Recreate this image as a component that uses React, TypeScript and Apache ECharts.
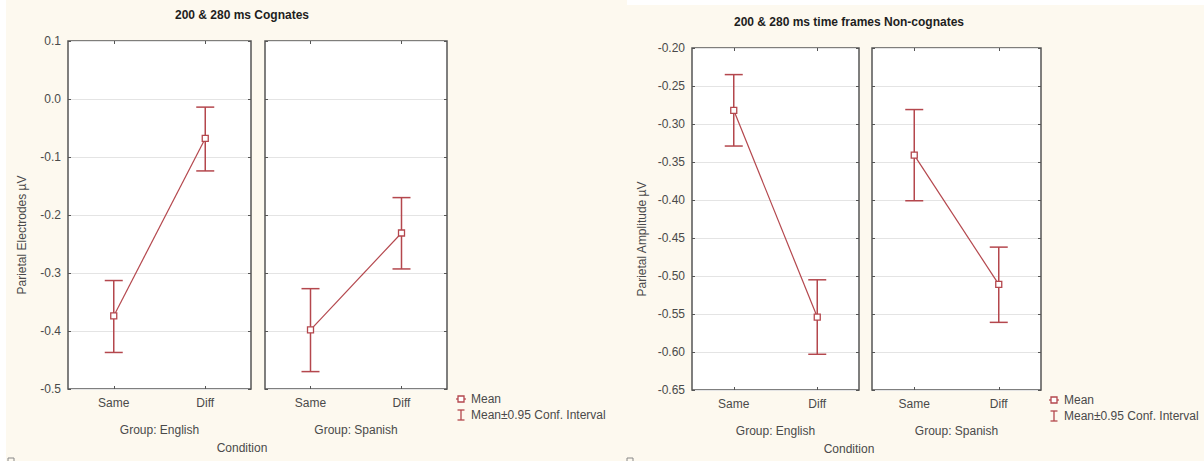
import React, { useEffect, useRef } from "react";
import * as echarts from "echarts";

// Conditions on each panel's x axis
const conditions = ["Same", "Diff"];

// Cognates, 200 & 280 ms (µV)
const cognEnglishMean = [-0.374, -0.068];
const cognEnglishLow = [-0.437, -0.124];
const cognEnglishHigh = [-0.313, -0.014];
const cognSpanishMean = [-0.398, -0.231];
const cognSpanishLow = [-0.47, -0.293];
const cognSpanishHigh = [-0.327, -0.17];

// Non-cognates, 200 & 280 ms time frames (µV)
const nonEnglishMean = [-0.282, -0.554];
const nonEnglishLow = [-0.329, -0.603];
const nonEnglishHigh = [-0.235, -0.505];
const nonSpanishMean = [-0.341, -0.511];
const nonSpanishLow = [-0.401, -0.561];
const nonSpanishHigh = [-0.281, -0.462];

const groupNames = ["Group: English", "Group: Spanish"];
const legendMean = "Mean";
const legendCI = "Mean±0.95 Conf. Interval";

const RED = "#b4474d";
const FONT = "'Liberation Sans', Arial, sans-serif";
const TXT = "#4a4a4a";
const FRAME = "#555";

type Panel = {
  left: number;
  top: number;
  width: number;
  height: number;
  min: number;
  max: number;
  interval: number;
  digits: number;
  showLabels: boolean;
  group: string;
  mean: number[];
  low: number[];
  high: number[];
};

const panels: Panel[] = [
  { left: 68, top: 41, width: 183, height: 348, min: -0.5, max: 0.1, interval: 0.1, digits: 1, showLabels: true, group: groupNames[0], mean: cognEnglishMean, low: cognEnglishLow, high: cognEnglishHigh },
  { left: 265, top: 41, width: 182, height: 348, min: -0.5, max: 0.1, interval: 0.1, digits: 1, showLabels: false, group: groupNames[1], mean: cognSpanishMean, low: cognSpanishLow, high: cognSpanishHigh },
  { left: 692, top: 48, width: 167, height: 342, min: -0.65, max: -0.2, interval: 0.05, digits: 2, showLabels: true, group: groupNames[0], mean: nonEnglishMean, low: nonEnglishLow, high: nonEnglishHigh },
  { left: 872, top: 48, width: 169, height: 342, min: -0.65, max: -0.2, interval: 0.05, digits: 2, showLabels: false, group: groupNames[1], mean: nonSpanishMean, low: nonSpanishLow, high: nonSpanishHigh },
];

function buildOption() {
  const grid: any[] = [];
  const xAxis: any[] = [];
  const yAxis: any[] = [];
  const series: any[] = [];

  panels.forEach((p, i) => {
    grid.push({
      left: p.left,
      top: p.top,
      width: p.width,
      height: p.height,
      show: true,
      backgroundColor: "#ffffff",
      borderColor: FRAME,
      borderWidth: 1.5,
    });
    const tick = { show: true, inside: true, length: 3, lineStyle: { color: FRAME, width: 1 } };
    // bottom category axis with labels and group name
    xAxis.push({
      type: "category",
      gridIndex: i,
      data: conditions,
      position: "bottom",
      axisLine: { show: false, onZero: false },
      axisTick: { ...tick, alignWithLabel: true },
      axisLabel: { fontFamily: FONT, fontSize: 12, color: TXT, margin: 8 },
      name: p.group,
      nameLocation: "middle",
      nameGap: 35,
      nameTextStyle: { fontFamily: FONT, fontSize: 12, color: TXT },
    });
    // top mirror for tick marks
    xAxis.push({
      type: "category",
      gridIndex: i,
      data: conditions,
      position: "top",
      axisLine: { show: false, onZero: false },
      axisTick: { ...tick, alignWithLabel: true },
      axisLabel: { show: false },
    });
    yAxis.push({
      type: "value",
      gridIndex: i,
      min: p.min,
      max: p.max,
      interval: p.interval,
      position: "left",
      axisLine: { show: false, onZero: false },
      axisTick: tick,
      splitLine: { show: true, lineStyle: { color: "#e4e4e4", width: 1 } },
      axisLabel: {
        show: p.showLabels,
        fontFamily: FONT,
        fontSize: 12,
        color: TXT,
        margin: 7,
        formatter: (v: number) => v.toFixed(p.digits),
      },
    });
    yAxis.push({
      type: "value",
      gridIndex: i,
      min: p.min,
      max: p.max,
      interval: p.interval,
      position: "right",
      axisLine: { show: false, onZero: false },
      axisTick: tick,
      splitLine: { show: false },
      axisLabel: { show: false },
    });

    // confidence interval whiskers
    series.push({
      type: "custom",
      name: legendCI,
      xAxisIndex: 2 * i,
      yAxisIndex: 2 * i,
      z: 2,
      data: conditions.map((_, j) => [j, p.low[j], p.high[j]]),
      encode: { x: 0, y: [1, 2] },
      renderItem: (params: any, api: any) => {
        const x = api.value(0);
        const lo = api.coord([x, api.value(1)]);
        const hi = api.coord([x, api.value(2)]);
        const half = 9;
        const style = { stroke: RED, lineWidth: 1.5, fill: "none" };
        return {
          type: "group",
          children: [
            { type: "line", shape: { x1: lo[0], y1: lo[1], x2: hi[0], y2: hi[1] }, style },
            { type: "line", shape: { x1: hi[0] - half, y1: hi[1], x2: hi[0] + half, y2: hi[1] }, style },
            { type: "line", shape: { x1: lo[0] - half, y1: lo[1], x2: lo[0] + half, y2: lo[1] }, style },
          ],
        };
      },
    });
    // means joined by a line
    series.push({
      type: "line",
      name: legendMean,
      xAxisIndex: 2 * i,
      yAxisIndex: 2 * i,
      z: 3,
      data: p.mean,
      symbol: "rect",
      symbolSize: 6,
      showAllSymbol: true,
      itemStyle: { color: "#ffffff", borderColor: RED, borderWidth: 1.3 },
      lineStyle: { color: RED, width: 1.2 },
    });
  });

  const text = (t: string, x: number, y: number, extra: any = {}) => ({
    type: "text",
    x,
    y,
    z: 10,
    rotation: extra.rotation || 0,
    style: {
      text: t,
      font: extra.font || `12px ${FONT}`,
      fill: extra.fill || TXT,
      textAlign: extra.align || "center",
      textVerticalAlign: "middle",
    },
  });

  const legend = (x: number, y1: number, y2: number) => [
    { type: "line", shape: { x1: x - 5, y1, x2: x + 5, y2: y1 }, style: { stroke: RED, lineWidth: 1.2 }, z: 10 },
    { type: "rect", shape: { x: x - 3, y: y1 - 3, width: 6, height: 6 }, style: { fill: "#fff", stroke: RED, lineWidth: 1.3 }, z: 11 },
    { type: "line", shape: { x1: x, y1: y2 - 5, x2: x, y2: y2 + 5 }, style: { stroke: RED, lineWidth: 1.3 }, z: 10 },
    { type: "line", shape: { x1: x - 3.5, y1: y2 - 5, x2: x + 3.5, y2: y2 - 5 }, style: { stroke: RED, lineWidth: 1.3 }, z: 10 },
    { type: "line", shape: { x1: x - 3.5, y1: y2 + 5, x2: x + 3.5, y2: y2 + 5 }, style: { stroke: RED, lineWidth: 1.3 }, z: 10 },
    text(legendMean, x + 10, y1, { align: "left" }),
    text(legendCI, x + 10, y2, { align: "left" }),
  ];

  const graphic: any[] = [
    // page margins of the two figures
    { type: "rect", shape: { x: 0, y: 0, width: 6, height: 461 }, style: { fill: "#ffffff" }, z: 0 },
    { type: "rect", shape: { x: 627, y: 0, width: 577, height: 5 }, style: { fill: "#ffffff" }, z: 0 },
    { type: "rect", shape: { x: 8, y: 458, width: 6, height: 5 }, style: { fill: "none", stroke: "#888", lineWidth: 1 }, z: 1 },
    { type: "rect", shape: { x: 627, y: 458, width: 6, height: 5 }, style: { fill: "none", stroke: "#888", lineWidth: 1 }, z: 1 },
    text("200 & 280 ms Cognates", 242, 15, { font: `bold 12px ${FONT}`, fill: "#1e1e1e" }),
    text("200 & 280 ms time frames Non-cognates", 849, 22, { font: `bold 12px ${FONT}`, fill: "#1e1e1e" }),
    text("Parietal Electrodes µV", 22, 235, { rotation: Math.PI / 2 }),
    text("Parietal Amplitude µV", 642, 239, { rotation: Math.PI / 2 }),
    text("Condition", 242, 448),
    text("Condition", 849, 449),
    ...legend(461, 399, 415),
    ...legend(1054, 400, 416),
  ];

  return {
    animation: false,
    backgroundColor: "#fdf9ef",
    grid,
    xAxis,
    yAxis,
    series,
    graphic,
  };
}

export default function App() {
  const ref = useRef<HTMLDivElement>(null);
  useEffect(() => {
    if (!ref.current) return;
    const chart = echarts.init(ref.current, undefined, { renderer: "svg" });
    chart.setOption(buildOption());
    return () => chart.dispose();
  }, []);
  return (
    <div
      ref={ref}
      style={{ position: "fixed", left: 0, top: 0, width: 1204, height: 461 }}
    />
  );
}
